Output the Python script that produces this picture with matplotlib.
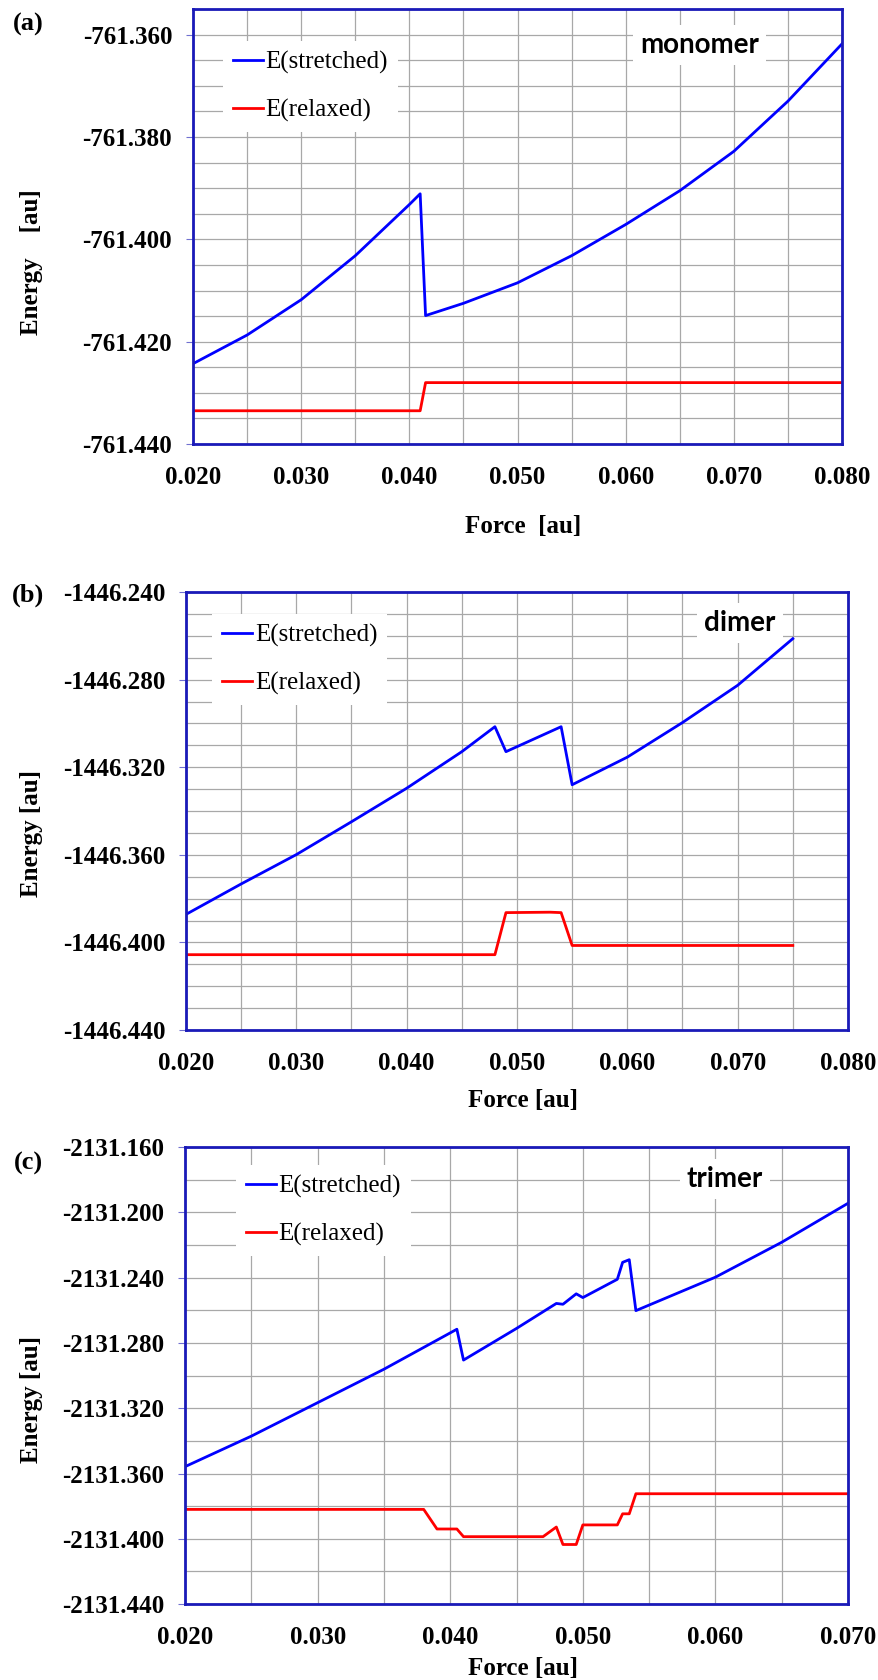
import numpy as np
import matplotlib.pyplot as plt
from matplotlib.ticker import MultipleLocator, FormatStrFormatter

plt.rcParams['axes.unicode_minus'] = False
plt.rcParams['font.family'] = ['Liberation Serif', 'DejaVu Serif']

# (a) monomer
xa_s = [0.020, 0.025, 0.030, 0.035, 0.040, 0.041, 0.0415, 0.045, 0.050,
        0.055, 0.060, 0.065, 0.070, 0.075, 0.080]
ya_s = [-761.4243, -761.4187, -761.4118, -761.4032, -761.3932, -761.3911,
        -761.4149, -761.4125, -761.4085, -761.4032, -761.3971, -761.3905,
        -761.3828, -761.3730, -761.3618]
xa_r = [0.020, 0.041, 0.0415, 0.080]
ya_r = [-761.4335, -761.4335, -761.4280, -761.4280]

# (b) dimer
xb_s = [0.020, 0.025, 0.030, 0.035, 0.040, 0.045, 0.048, 0.049, 0.054,
        0.055, 0.060, 0.065, 0.070, 0.075]
yb_s = [-1446.3872, -1446.3733, -1446.3599, -1446.3449, -1446.3296,
        -1446.3129, -1446.3015, -1446.3129, -1446.3015, -1446.3280,
        -1446.3154, -1446.2996, -1446.2826, -1446.2613]
xb_r = [0.020, 0.048, 0.049, 0.053, 0.054, 0.055, 0.075]
yb_r = [-1446.4056, -1446.4056, -1446.3864, -1446.3862, -1446.3864,
        -1446.4014, -1446.4014]

# (c) trimer
xc_s = [0.020, 0.025, 0.030, 0.035, 0.0405, 0.041, 0.045, 0.048, 0.0485,
        0.0495, 0.050, 0.0526, 0.053, 0.0535, 0.054, 0.060, 0.065, 0.070]
yc_s = [-2131.3558, -2131.3371, -2131.3166, -2131.2961, -2131.2716,
        -2131.2905, -2131.2711, -2131.2558, -2131.2563, -2131.2499,
        -2131.2522, -2131.2410, -2131.2306, -2131.2290, -2131.2602,
        -2131.2397, -2131.2183, -2131.1944]
xc_r = [0.020, 0.038, 0.039, 0.0405, 0.041, 0.047, 0.048, 0.0485, 0.0495,
        0.050, 0.0526, 0.053, 0.0535, 0.054, 0.070]
yc_r = [-2131.3820, -2131.3820, -2131.3940, -2131.3940, -2131.3987,
        -2131.3987, -2131.3928, -2131.4035, -2131.4035, -2131.3915,
        -2131.3915, -2131.3847, -2131.3847, -2131.3724, -2131.3724]

spine_col = '#1a1ab8'

panels = [
    dict(rect=[0.2196, 0.7357, 0.7383, 0.2589], xs=xa_s, ys=ya_s, xr=xa_r, yr=ya_r,
         xlim=(0.02, 0.08), ylim=(-761.44, -761.355), ymaj=0.02, ymin=0.005,
         name='monomer', npos=(0.780, 0.917), leg=(0.046, 0.927),
         tag='(a)', tagy=0.9857, ylab='Energy    [au]', ylaby=0.844,
         xlab='Force  [au]', xlaby=1 - 527 / 1680),
    dict(rect=[0.2116, 0.3869, 0.7531, 0.2607], xs=xb_s, ys=yb_s, xr=xb_r, yr=yb_r,
         xlim=(0.02, 0.08), ylim=(-1446.44, -1446.24), ymaj=0.04, ymin=0.01,
         name='dimer', npos=(0.837, 0.929), leg=(0.040, 0.950),
         tag='(b)', tagy=0.6458, ylab='Energy [au]', ylaby=0.504,
         xlab='Force [au]', xlaby=1 - 1100 / 1680),
    dict(rect=[0.2105, 0.0452, 0.7543, 0.2720], xs=xc_s, ys=yc_s, xr=xc_r, yr=yc_r,
         xlim=(0.02, 0.07), ylim=(-2131.44, -2131.16), ymaj=0.04, ymin=0.02,
         name='trimer', npos=(0.814, 0.930), leg=(0.077, 0.961),
         tag='(c)', tagy=0.3077, ylab='Energy [au]', ylaby=0.1667,
         xlab='Force [au]', xlaby=1 - 1668 / 1680),
]

fig = plt.figure(figsize=(8.79, 16.8), dpi=100)

for p in panels:
    ax = fig.add_axes(p['rect'])
    ax.plot(p['xs'], p['ys'], color='#0000ff', lw=2.0, label='E(stretched)')
    ax.plot(p['xr'], p['yr'], color='#ff0000', lw=2.0, label='E(relaxed)')
    ax.set_xlim(p['xlim'])
    ax.set_ylim(p['ylim'])

    ax.xaxis.set_major_locator(MultipleLocator(0.01))
    ax.xaxis.set_minor_locator(MultipleLocator(0.005))
    ax.yaxis.set_major_locator(MultipleLocator(p['ymaj']))
    ax.yaxis.set_minor_locator(MultipleLocator(p['ymin']))
    ax.xaxis.set_major_formatter(FormatStrFormatter('%.3f'))
    ax.yaxis.set_major_formatter(FormatStrFormatter('%.3f'))

    ax.grid(which='both', color='#a8a8a8', lw=0.9)
    ax.set_axisbelow(True)
    ax.tick_params(axis='x', which='both', length=0, pad=16)
    ax.tick_params(axis='y', which='major', length=5, color='#7070d0', pad=10)
    ax.tick_params(axis='y', which='minor', length=0)
    for lab in ax.get_xticklabels() + ax.get_yticklabels():
        lab.set_fontsize(18)
        lab.set_fontweight('bold')
    for s in ax.spines.values():
        s.set_color(spine_col)
        s.set_linewidth(2.0)

    leg = ax.legend(loc='upper left', bbox_to_anchor=p['leg'], borderaxespad=0,
                    frameon=True, fancybox=False, framealpha=1,
                    facecolor='white', edgecolor='none', fontsize=18,
                    handlelength=1.2, handletextpad=0.1, labelspacing=1.0)

    ax.text(p['npos'][0], p['npos'][1], p['name'], transform=ax.transAxes,
            ha='center', va='center', fontsize=20, fontweight='bold',
            family=['Lato', 'DejaVu Sans'],
            bbox=dict(facecolor='white', edgecolor='none', pad=5))

    fig.text(0.032, p['tagy'], p['tag'], ha='center', va='center',
             fontsize=19, fontweight='bold')
    fig.text(0.036, p['ylaby'], p['ylab'], ha='center', va='center',
             rotation=90, fontsize=18, fontweight='bold')
    fig.text(523 / 879, p['xlaby'], p['xlab'], ha='center', va='center',
             fontsize=18, fontweight='bold')

fig.savefig('out.png', dpi=100)
